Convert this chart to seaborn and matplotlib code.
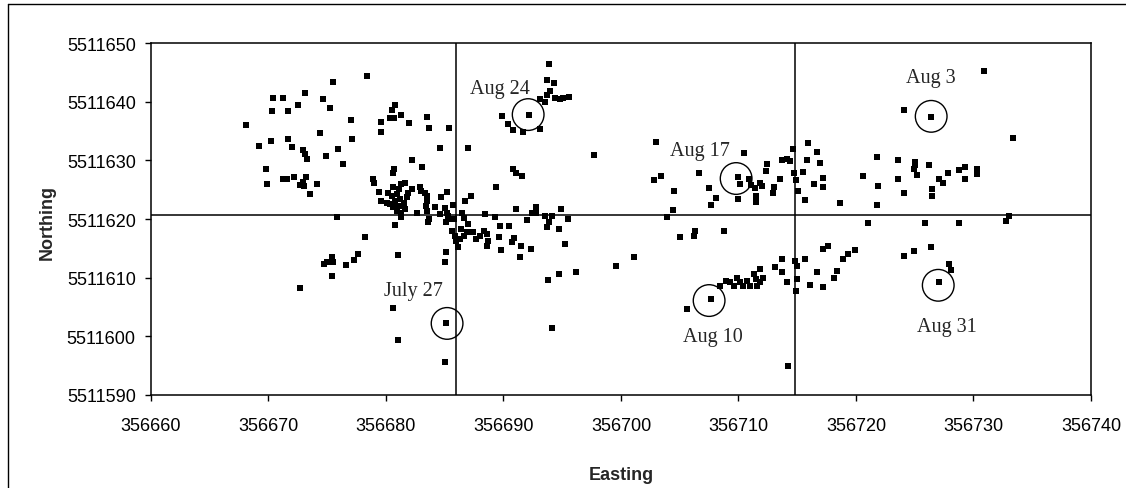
import matplotlib
matplotlib.use("Agg")
import matplotlib.pyplot as plt
from matplotlib.lines import Line2D
import seaborn as sns
import pandas as pd

# ---------------- data ----------------
easting = [
    # west cluster
    356668.1, 356669.2, 356670.2, 356669.8, 356669.9, 356670.4, 356671.2, 356670.3, 356671.7, 356672.5,
    356673.1, 356674.6, 356675.2, 356675.5, 356678.4, 356671.7, 356672.0, 356672.9, 356673.1, 356673.3,
    356674.4, 356674.9, 356675.9, 356676.3, 356677.0, 356677.1, 356671.2, 356671.6, 356672.2, 356673.2,
    356672.7, 356673.0, 356672.9, 356673.5, 356674.1, 356675.8,
    356679.6, 356679.6, 356680.5, 356680.8, 356680.3, 356680.7, 356681.3, 356682.0, 356683.5, 356683.7,
    356685.4, 356684.6, 356687.0, 356682.2, 356683.1, 356680.7,
    # dense cluster near first crossing
    356678.9, 356679.0, 356680.6, 356679.4, 356679.6, 356678.2,
    356680.2, 356680.5, 356680.6, 356681.1, 356681.3, 356681.6, 356680.9, 356681.2, 356680.8, 356680.3,
    356680.1, 356680.6, 356681.1, 356681.5, 356681.8, 356681.6, 356681.3, 356681.3, 356680.9, 356681.9, 356682.2,
    356682.9, 356683.0, 356683.3, 356683.5, 356683.5, 356683.4, 356683.5, 356682.6, 356680.8, 356681.3,
    356683.6, 356683.7, 356684.2, 356684.6, 356684.7, 356685.2, 356685.0, 356685.2, 356685.3, 356685.7,
    356685.6, 356685.8, 356685.1, 356686.7, 356687.2, 356686.5, 356686.6,
    356685.6, 356685.9, 356686.0, 356686.1, 356686.3, 356686.6, 356686.9, 356686.4,
    356687.0, 356687.4, 356687.7, 356688.0, 356688.3, 356688.6, 356688.7, 356688.6,
    356688.4, 356685.1, 356685.0,
    # south-west
    356674.7, 356675.0, 356675.4, 356675.5, 356675.4, 356676.6, 356677.3, 356677.6, 356672.7, 356681.0,
    356680.6, 356681.0, 356685.1, 356685.0,
    # centre
    356689.4, 356689.3, 356689.7, 356689.6, 356689.8, 356690.5, 356691.1, 356692.0, 356692.4, 356692.8,
    356692.8, 356693.5, 356694.1, 356693.9, 356693.7, 356694.9, 356695.5, 356694.7, 356695.2, 356690.9,
    356690.7, 356691.5, 356692.3, 356691.4, 356693.8, 356694.7, 356696.2, 356699.6, 356701.1,
    356694.1, 356705.6, 356707.7,
    # north-centre
    356693.9, 356693.7, 356694.3, 356694.0, 356693.7, 356693.5, 356693.1, 356694.4, 356694.8, 356695.1,
    356695.6, 356692.2, 356689.9, 356690.4, 356690.8, 356691.7, 356693.1, 356697.7, 356690.8, 356691.1,
    356691.6,
    # east-centre
    356703.0, 356702.8, 356703.4, 356704.5, 356706.6, 356707.5, 356708.1, 356707.7, 356704.4, 356703.9,
    356705.0, 356706.3, 356706.2, 356708.8,
    356710.0, 356710.1, 356710.5, 356710.0, 356710.9, 356711.1, 356711.4, 356711.5, 356711.5, 356711.8,
    356712.0, 356712.4, 356712.3, 356713.0, 356712.9, 356713.5, 356713.7, 356714.1, 356714.4, 356714.6,
    356714.7, 356714.9, 356715.1, 356715.5, 356715.7, 356715.8, 356715.9, 356716.4, 356716.7,
    356713.7, 356714.8, 356715.0, 356715.7, 356716.7, 356713.1, 356713.7, 356714.1, 356715.0, 356716.1,
    356714.9,
    356708.4, 356708.9, 356709.3, 356709.6, 356709.9, 356710.1, 356710.4, 356710.7, 356711.0, 356711.3,
    356711.5, 356711.8, 356711.8, 356712.1, 356711.6,
    # east
    356716.9, 356717.2, 356717.2, 356730.9, 356724.1, 356726.4, 356733.4, 356718.6, 356720.6, 356721.8,
    356721.9, 356721.8, 356721.0, 356723.6, 356723.6, 356724.1, 356725.0, 356724.9, 356725.2, 356725.0,
    356726.2, 356725.9, 356726.5, 356726.5, 356727.1, 356727.4, 356727.8, 356728.8, 356729.3, 356729.3,
    356728.8, 356730.3, 356730.3, 356732.8, 356733.0,
    356717.2, 356717.6, 356717.2, 356718.1, 356718.4, 356718.9, 356719.3, 356719.9, 356714.2, 356724.1,
    356724.9, 356726.4, 356727.9, 356728.1, 356727.1,
]

northing = [
    # west cluster
    5511636.0, 5511632.5, 5511633.3, 5511628.5, 5511625.9, 5511640.6, 5511640.6, 5511638.4, 5511638.4, 5511639.5,
    5511641.5, 5511640.4, 5511638.9, 5511643.4, 5511644.3, 5511633.6, 5511632.2, 5511631.7, 5511631.1, 5511630.2,
    5511634.7, 5511630.8, 5511631.9, 5511629.3, 5511636.9, 5511633.6, 5511626.9, 5511626.9, 5511627.2, 5511627.2,
    5511625.8, 5511625.7, 5511626.3, 5511624.2, 5511625.9, 5511620.4,
    5511636.6, 5511634.9, 5511638.6, 5511639.5, 5511637.2, 5511637.2, 5511637.7, 5511636.3, 5511637.4, 5511635.5,
    5511635.5, 5511632.1, 5511632.1, 5511630.1, 5511628.9, 5511628.6,
    # dense cluster near first crossing
    5511626.8, 5511626.1, 5511627.8, 5511624.6, 5511623.0, 5511617.0,
    5511624.5, 5511623.9, 5511625.4, 5511625.1, 5511626.0, 5511626.1, 5511624.2, 5511623.4, 5511623.1, 5511622.6,
    5511622.8, 5511622.0, 5511622.3, 5511622.8, 5511623.7, 5511621.7, 5511621.1, 5511620.3, 5511621.4, 5511624.5, 5511625.1,
    5511625.4, 5511624.8, 5511624.5, 5511623.9, 5511623.1, 5511622.3, 5511621.4, 5511621.1, 5511619.0, 5511620.5,
    5511619.5, 5511620.0, 5511622.0, 5511620.9, 5511623.8, 5511624.6, 5511621.8, 5511621.1, 5511620.5, 5511622.4,
    5511620.0, 5511620.0, 5511619.5, 5511623.0, 5511623.9, 5511621.1, 5511620.1,
    5511618.0, 5511617.1, 5511616.3, 5511615.2, 5511616.6, 5511617.1, 5511617.7, 5511618.3,
    5511619.1, 5511617.7, 5511616.6, 5511617.1, 5511618.0, 5511617.4, 5511616.3, 5511615.4,
    5511620.9, 5511614.4, 5511612.7,
    # south-west
    5511612.4, 5511612.6, 5511613.5, 5511612.7, 5511610.2, 5511612.1, 5511613.0, 5511614.0, 5511608.2, 5511613.8,
    5511604.9, 5511599.3, 5511602.3, 5511595.7,
    # centre
    5511625.5, 5511620.3, 5511618.8, 5511616.9, 5511614.7, 5511618.8, 5511621.7, 5511619.8, 5511621.1, 5511622.1,
    5511621.1, 5511620.5, 5511620.5, 5511619.5, 5511618.6, 5511621.7, 5511620.0, 5511618.3, 5511615.7, 5511616.7,
    5511616.0, 5511615.4, 5511614.9, 5511613.5, 5511609.6, 5511610.6, 5511610.9, 5511612.0, 5511613.5,
    5511601.4, 5511604.7, 5511606.3,
    # north-centre
    5511646.4, 5511643.7, 5511643.1, 5511641.8, 5511641.1, 5511640.0, 5511640.4, 5511640.7, 5511640.4, 5511640.7,
    5511640.8, 5511637.7, 5511637.5, 5511636.2, 5511635.2, 5511634.9, 5511635.4, 5511630.9, 5511628.6, 5511627.9,
    5511627.4,
    # east-centre
    5511633.2, 5511626.7, 5511627.4, 5511624.7, 5511627.8, 5511625.3, 5511623.6, 5511622.4, 5511621.6, 5511620.3,
    5511617.0, 5511618.0, 5511617.1, 5511618.0,
    5511627.1, 5511625.9, 5511631.2, 5511623.4, 5511626.9, 5511625.8, 5511625.2, 5511624.0, 5511622.9, 5511626.1,
    5511625.7, 5511629.4, 5511628.2, 5511625.4, 5511624.5, 5511626.9, 5511630.1, 5511630.3, 5511629.9, 5511632.0,
    5511627.9, 5511626.7, 5511624.7, 5511628.0, 5511623.2, 5511630.1, 5511632.9, 5511625.9, 5511631.4,
    5511613.2, 5511612.9, 5511612.0, 5511613.2, 5511610.9, 5511611.8, 5511610.9, 5511609.2, 5511609.8, 5511608.7,
    5511607.8,
    5511608.6, 5511609.5, 5511609.2, 5511608.6, 5511610.0, 5511609.2, 5511608.6, 5511609.5, 5511608.6, 5511610.6,
    5511609.8, 5511611.5, 5511609.2, 5511610.0, 5511608.6,
    # east
    5511629.5, 5511627.0, 5511625.4, 5511645.3, 5511638.6, 5511637.4, 5511633.8, 5511622.7, 5511627.3, 5511630.6,
    5511625.6, 5511622.4, 5511619.4, 5511630.0, 5511626.9, 5511624.4, 5511629.7, 5511628.5, 5511627.5, 5511629.2,
    5511629.2, 5511619.4, 5511625.1, 5511623.9, 5511626.9, 5511626.1, 5511627.8, 5511628.3, 5511628.9, 5511626.9,
    5511619.4, 5511628.6, 5511627.6, 5511619.7, 5511620.5,
    5511614.9, 5511615.4, 5511608.4, 5511610.0, 5511611.2, 5511613.2, 5511614.0, 5511614.7, 5511595.0, 5511613.7,
    5511614.5, 5511615.3, 5511612.3, 5511611.3, 5511609.2,
]

# circled, dated locations
date_labels = ["July 27", "Aug 24", "Aug 17", "Aug 10", "Aug 3", "Aug 31"]
date_easting = [356685.2, 356692.1, 356709.8, 356707.5, 356726.4, 356727.0]
date_northing = [5511602.2, 5511637.8, 5511626.9, 5511606.1, 5511637.5, 5511608.7]

# quadrant divider lines
divider_easting = [356686.0, 356714.8]
divider_northing = [5511620.7]

x_ticks = [356660, 356670, 356680, 356690, 356700, 356710, 356720, 356730, 356740]
y_ticks = [5511590, 5511600, 5511610, 5511620, 5511630, 5511640, 5511650]

# ---------------- styling ----------------
sns.set_style("white")
plt.rcParams["font.family"] = ["Liberation Sans", "DejaVu Sans"]

fig = plt.figure(figsize=(11.26, 4.89), dpi=100)
ax = fig.add_axes([0.1341, 0.1902, 0.8348, 0.7198])

df = pd.DataFrame({"Easting": easting, "Northing": northing})
sns.scatterplot(data=df, x="Easting", y="Northing", marker="s", s=24,
                color="black", edgecolor="black", linewidth=0, ax=ax, zorder=3)

for xv in divider_easting:
    ax.axvline(xv, color="black", lw=1.1, zorder=2)
for yv in divider_northing:
    ax.axhline(yv, color="black", lw=1.1, zorder=2)

# circles around dated locations
ax.scatter(date_easting, date_northing, s=520, facecolors="none",
           edgecolors="black", linewidths=1.0, zorder=4)

label_offsets = {"July 27": (-24, 24), "Aug 24": (-20, 19), "Aug 17": (-26, 20),
                 "Aug 10": (3, -26), "Aug 3": (0, 28), "Aug 31": (6, -30)}
for lab, xe, yn in zip(date_labels, date_easting, date_northing):
    ax.annotate(lab, (xe, yn), xytext=label_offsets[lab], textcoords="offset points",
                ha="center", va="center", fontsize=14.5,
                family=["Liberation Serif", "DejaVu Serif"], zorder=5)

ax.set_xlim(356660, 356740)
ax.set_ylim(5511590, 5511650)
ax.set_xticks(x_ticks)
ax.set_yticks(y_ticks)
ax.set_xticklabels([str(v) for v in x_ticks])
ax.set_yticklabels([str(v) for v in y_ticks])

ax.tick_params(axis="both", direction="out", length=4, width=1, color="black",
               labelsize=13, labelcolor="black")
ax.tick_params(axis="x", pad=12)
ax.tick_params(axis="y", pad=7)
ax.tick_params(bottom=True, left=True)

for sp in ax.spines.values():
    sp.set_visible(True)
    sp.set_color("black")
    sp.set_linewidth(1.1)

ax.set_xlabel("Easting", fontsize=13, fontweight="bold")
ax.set_ylabel("Northing", fontsize=13, fontweight="bold")
ax.xaxis.set_label_coords(0.5, -0.203)
ax.yaxis.set_label_coords(-0.101, 0.494)

# outer frame (top and left edges visible in the scan)
fig.add_artist(Line2D([8 / 1126, 1.0], [1 - 5 / 489, 1 - 5 / 489], color="black", lw=1.0,
                      transform=fig.transFigure))
fig.add_artist(Line2D([8 / 1126, 8 / 1126], [0.0, 1 - 5 / 489], color="black", lw=1.0,
                      transform=fig.transFigure))

fig.savefig("out.png", dpi=100, facecolor="white")
